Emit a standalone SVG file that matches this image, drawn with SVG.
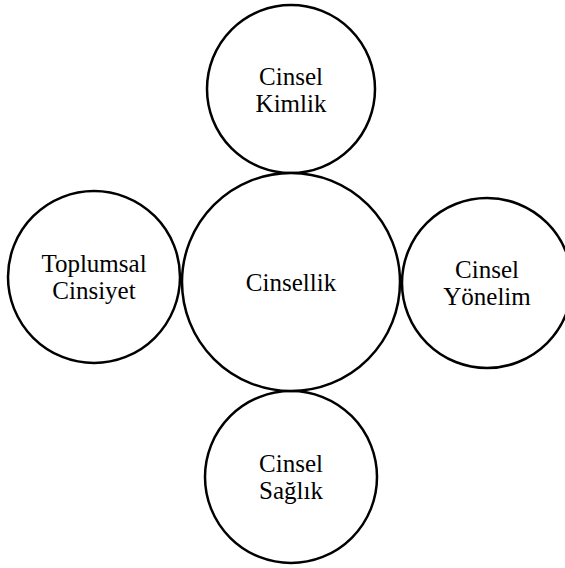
<svg xmlns="http://www.w3.org/2000/svg" width="565" height="568" viewBox="0 0 565 568">
<style>
.c{fill:#fff;stroke:#000;stroke-width:2.5}
.t{font-family:'Liberation Serif','Times New Roman',serif;font-size:25px;fill:#000;text-anchor:middle}
</style>
<rect width="565" height="568" fill="#fff"/>
<g id="connectors"></g>
<g id="top"><circle class="c" cx="291" cy="89" r="84"/><text class="t" x="291" y="85">Cinsel</text><text class="t" x="291" y="112">Kimlik</text></g>
<g id="left"><circle class="c" cx="94" cy="277" r="86"/><text class="t" x="94" y="272">Toplumsal</text><text class="t" x="94" y="299">Cinsiyet</text></g>
<g id="right"><circle class="c" cx="487" cy="283" r="85"/><text class="t" x="487" y="278">Cinsel</text><text class="t" x="487" y="305">Yönelim</text></g>
<g id="bottom"><circle class="c" cx="291" cy="477" r="86"/><text class="t" x="291" y="472">Cinsel</text><text class="t" x="291" y="499">Sağlık</text></g>
<g id="center"><circle class="c" cx="291" cy="282" r="109"/><text class="t" x="291" y="291">Cinsellik</text></g>
</svg>
